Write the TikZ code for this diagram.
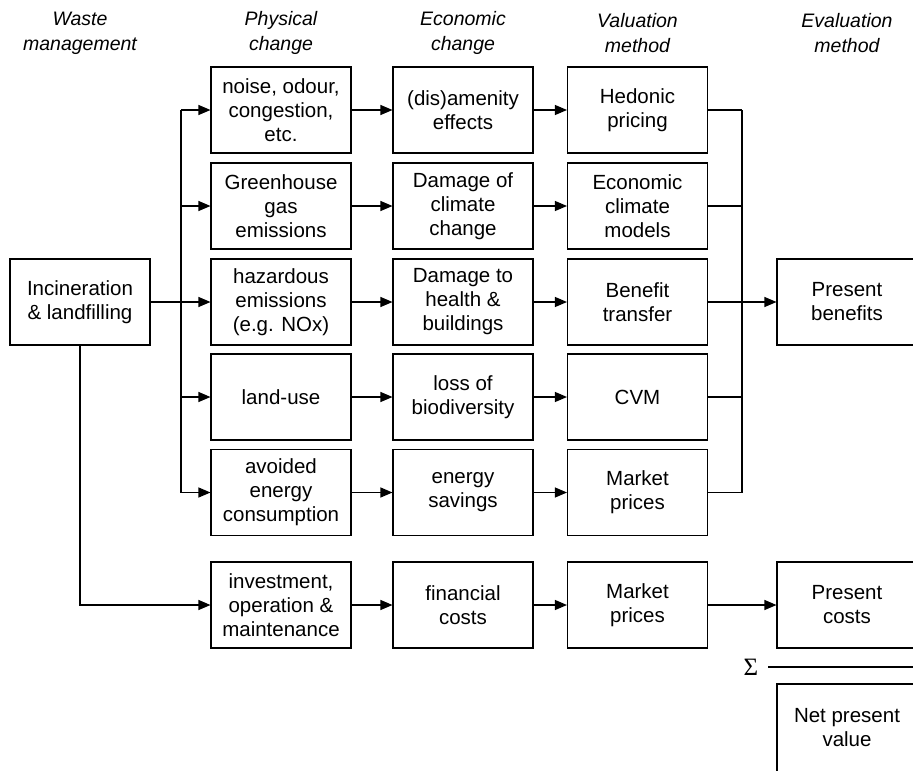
\documentclass[tikz,border=0pt]{standalone}
\usepackage{fontspec}
\setmainfont{Liberation Sans}
\newfontfamily\sigfont{Liberation Serif}
\usetikzlibrary{arrows.meta}
\begin{document}
\begin{tikzpicture}[x=1pt,y=-1pt,
  font=\fontsize{20.5}{24}\selectfont,
  box/.style={draw, line width=1.1pt, rectangle, minimum width=140pt, minimum height=86pt, inner sep=0pt, align=center},
  hdr/.style={align=center, font=\fontsize{19.5}{25}\selectfont\itshape},
  conn/.style={line width=1.1pt},
  arr/.style={line width=1.1pt, -{Triangle[length=12pt,width=10pt]}}]
\useasboundingbox (0,0) rectangle (913,771);
\begin{scope}
\clip (0,0) rectangle (913,771);
% headers
\node[hdr] (h0) at (80,33) {Waste\\management};
\node[hdr] (h1) at (281,33) {Physical\\change};
\node[hdr] (h2) at (463,33) {Economic\\change};
\node[hdr] (h3) at (637.5,33) {Valuation\\method};
\node[hdr] (h4) at (847,33) {Evaluation\\method};
% waste management
\node[box] (inc) at (80,302) {Incineration\\\& landfilling};
% physical change
\node[box] (p1) at (281,110) {noise, odour,\\congestion,\\etc.};
\node[box] (p2) at (281,206) {Greenhouse\\gas\\emissions};
\node[box] (p3) at (281,302) {hazardous\\emissions\\(e.g. NOx)};
\node[box] (p4) at (281,397) {land-use};
\node[box] (p5) at (281,492.5) {avoided\\energy\\consumption};
\node[box] (p6) at (281,605) {investment,\\operation \&\\maintenance};
% economic change
\node[box] (e1) at (463,110) {(dis)amenity\\effects};
\node[box] (e2) at (463,206) {Damage of\\climate\\change};
\node[box] (e3) at (463,302) {Damage to\\health \&\\buildings};
\node[box] (e4) at (463,397) {loss of\\biodiversity};
\node[box] (e5) at (463,492.5) {energy\\savings};
\node[box] (e6) at (463,605) {financial\\costs};
% valuation method
\node[box] (v1) at (637.5,110) {Hedonic\\pricing};
\node[box] (v2) at (637.5,206) {Economic\\climate\\models};
\node[box] (v3) at (637.5,302) {Benefit\\transfer};
\node[box] (v4) at (637.5,397) {CVM};
\node[box] (v5) at (637.5,492.5) {Market\\prices};
\node[box] (v6) at (637.5,605) {Market\\prices};
% evaluation method
\node[box] (pb) at (847,302) {Present\\benefits};
\node[box] (pc) at (847,605) {Present\\costs};
\node[box, minimum height=88pt] (npv) at (847,728) {Net present\\value};
\node[font=\fontsize{25}{25}\sigfont, inner sep=0pt] (sig) at (751,667) {Σ};
\coordinate (sl) at (915,667);
\draw[conn] ([xshift=10pt]sig.east) -- (sl);
% left bus
\coordinate (lb) at (181,0);
\draw[conn] (inc.east) -- (lb |- inc.east);
\draw[conn] (lb |- p1) -- (lb |- p5);
\foreach \n in {p1,p2,p3,p4,p5} {
  \draw[arr] (lb |- \n) -- (\n.west);
}
\draw[arr] (inc.south) |- (p6.west);
% physical -> economic -> valuation
\foreach \i in {1,2,3,4,5,6} {
  \draw[arr] (p\i.east) -- (e\i.west);
  \draw[arr] (e\i.east) -- (v\i.west);
}
% right bus
\coordinate (rb) at (742,0);
\foreach \n in {v1,v2,v4,v5} {
  \draw[conn] (\n.east) -- (rb |- \n);
}
\draw[conn] (rb |- v1) -- (rb |- v5);
\draw[arr] (v3.east) -- (pb.west);
\draw[arr] (v6.east) -- (pc.west);
\end{scope}
\end{tikzpicture}
\end{document}
